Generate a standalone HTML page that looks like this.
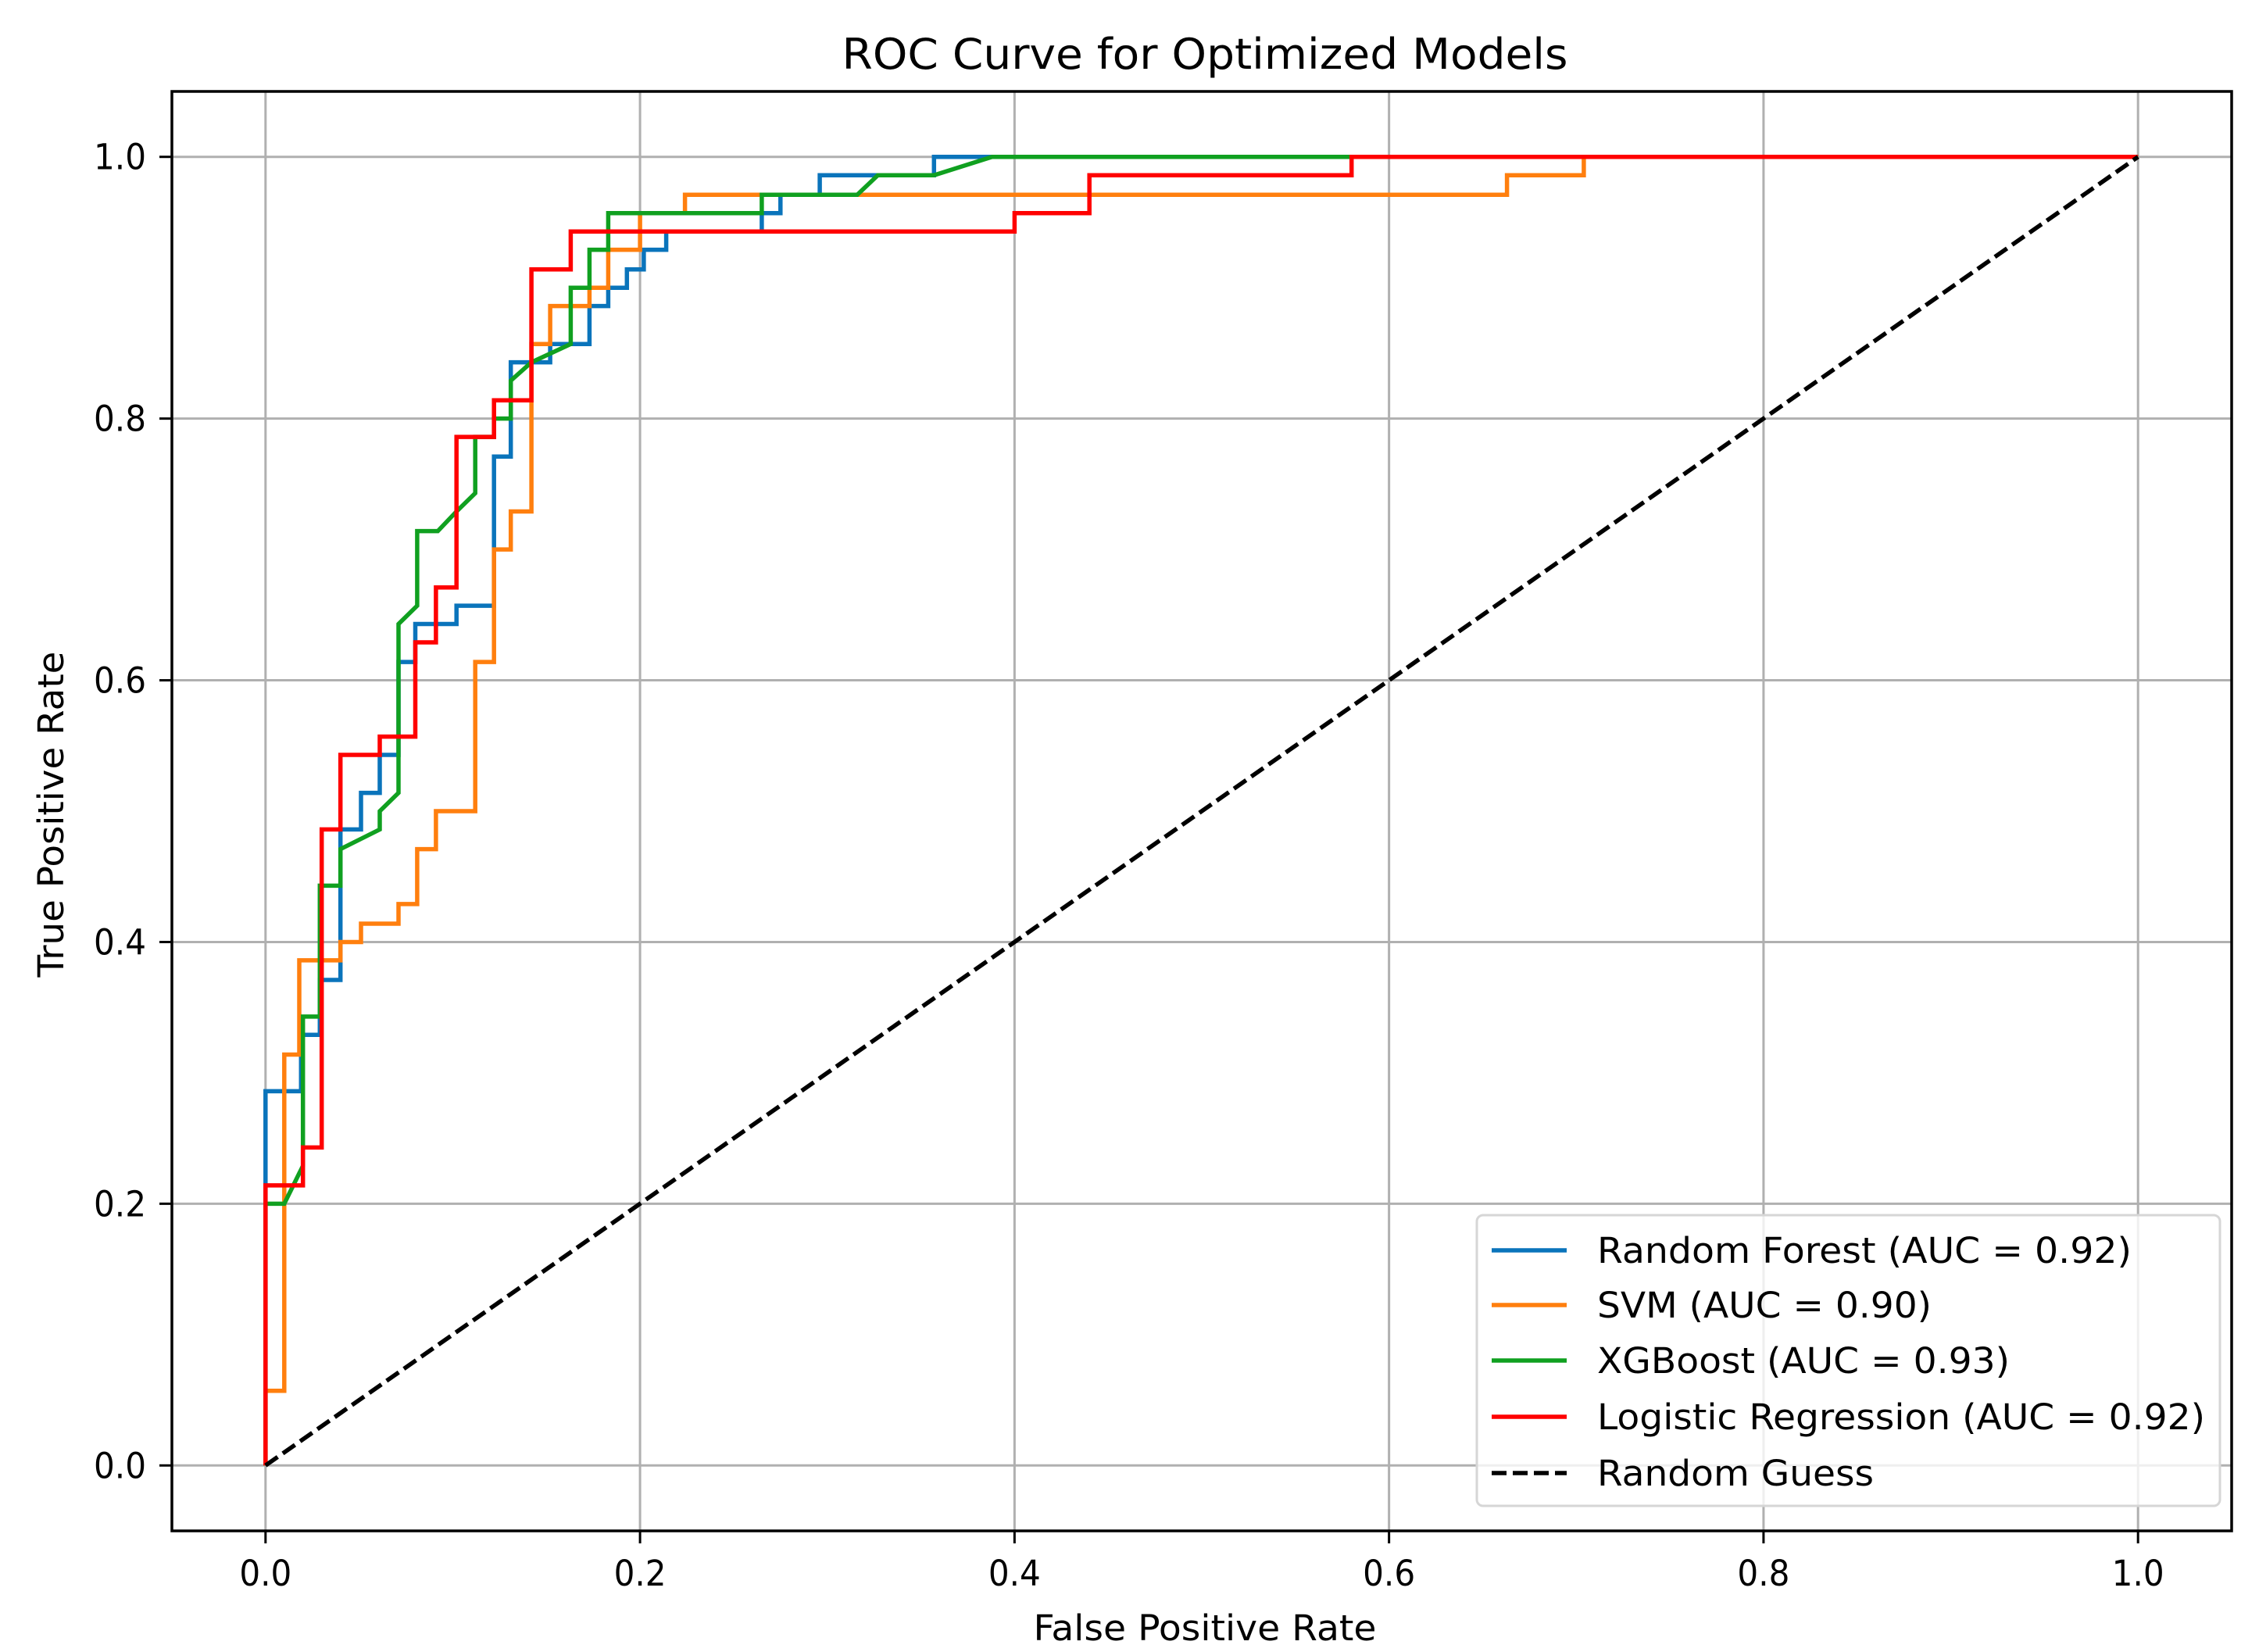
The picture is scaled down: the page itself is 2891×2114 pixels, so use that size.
<!DOCTYPE html>
<html><head><meta charset="utf-8"><style>
html,body{margin:0;padding:0;background:#fff;}
svg{display:block;}
text{font-family:"DejaVu Sans","Liberation Sans",sans-serif;fill:#000;}
</style></head>
<body>
<svg id="chart" width="2891" height="2114" viewBox="0 0 2891 2114" xmlns="http://www.w3.org/2000/svg">
<rect x="0" y="0" width="2891" height="2114" fill="#fff"/>
<text x="1542" y="88" font-size="54" text-anchor="middle" textLength="929" lengthAdjust="spacingAndGlyphs">ROC Curve for Optimized Models</text>
<text x="1542" y="2099" font-size="45" text-anchor="middle" textLength="439" lengthAdjust="spacingAndGlyphs">False Positive Rate</text>
<text transform="translate(81,1042) rotate(-90)" font-size="45" text-anchor="middle" textLength="417" lengthAdjust="spacingAndGlyphs">True Positive Rate</text>
<g id="grid"></g>
<g id="series"></g>
<rect x="220" y="117" width="2636" height="1842" fill="none" stroke="#000" stroke-width="3.5"/>
<g id="ticks"></g>
<g id="legend"></g>
</svg>
<script>
const xTicks = [0, 0.2, 0.4, 0.6, 0.8, 1.0];
const yTicks = [0, 0.2, 0.4, 0.6, 0.8, 1.0];
const tickLabels = ["0.0", "0.2", "0.4", "0.6", "0.8", "1.0"];
const seriesNames = ["Random Forest (AUC = 0.92)", "SVM (AUC = 0.90)", "XGBoost (AUC = 0.93)", "Logistic Regression (AUC = 0.92)", "Random Guess"];
const rfX = [0,0,0.019,0.019,0.029,0.029,0.04,0.04,0.051,0.051,0.061,0.061,0.071,0.071,0.08,0.08,0.102,0.102,0.122,0.122,0.131,0.131,0.152,0.152,0.173,0.173,0.183,0.183,0.193,0.193,0.202,0.202,0.214,0.214,0.265,0.265,0.275,0.275,0.296,0.296,0.357,0.357,1];
const rfY = [0,0.286,0.286,0.329,0.329,0.371,0.371,0.486,0.486,0.514,0.514,0.543,0.543,0.614,0.614,0.643,0.643,0.657,0.657,0.771,0.771,0.843,0.843,0.857,0.857,0.886,0.886,0.9,0.9,0.914,0.914,0.929,0.929,0.943,0.943,0.957,0.957,0.971,0.971,0.986,0.986,1,1];
const svmX = [0,0,0.01,0.01,0.018,0.018,0.04,0.04,0.051,0.051,0.071,0.071,0.081,0.081,0.091,0.091,0.112,0.112,0.122,0.122,0.131,0.131,0.142,0.142,0.152,0.152,0.173,0.173,0.183,0.183,0.2,0.2,0.224,0.224,0.663,0.663,0.704,0.704,1];
const svmY = [0,0.057,0.057,0.314,0.314,0.386,0.386,0.4,0.4,0.414,0.414,0.429,0.429,0.471,0.471,0.5,0.5,0.614,0.614,0.7,0.7,0.729,0.729,0.857,0.857,0.886,0.886,0.9,0.9,0.929,0.929,0.957,0.957,0.971,0.971,0.986,0.986,1,1];
const xgbX = [0,0,0.01,0.02,0.02,0.029,0.029,0.04,0.04,0.061,0.061,0.071,0.071,0.081,0.081,0.092,0.102,0.112,0.112,0.122,0.122,0.131,0.131,0.142,0.163,0.163,0.173,0.173,0.183,0.183,0.265,0.265,0.316,0.327,0.357,0.388,1];
const xgbY = [0,0.2,0.2,0.229,0.343,0.343,0.443,0.443,0.471,0.486,0.5,0.514,0.643,0.657,0.714,0.714,0.729,0.743,0.786,0.786,0.8,0.8,0.829,0.843,0.857,0.9,0.9,0.929,0.929,0.957,0.957,0.971,0.971,0.986,0.986,1,1];
const lrX = [0,0,0.02,0.02,0.03,0.03,0.04,0.04,0.061,0.061,0.08,0.08,0.091,0.091,0.102,0.102,0.122,0.122,0.142,0.142,0.163,0.163,0.4,0.4,0.44,0.44,0.58,0.58,1];
const lrY = [0,0.214,0.214,0.243,0.243,0.486,0.486,0.543,0.543,0.557,0.557,0.629,0.629,0.671,0.671,0.786,0.786,0.814,0.814,0.914,0.914,0.943,0.943,0.957,0.957,0.986,0.986,1,1];
const guessX = [0, 1];
const guessY = [0, 1];

const NS = "http://www.w3.org/2000/svg";
const L = 220, R = 2856, T = 117, B = 1959;
function sx(v){ return L + (v + 0.05) / 1.1 * (R - L); }
function sy(v){ return B - (v + 0.05) / 1.1 * (B - T); }
function mk(tag, attrs){ const e = document.createElementNS(NS, tag); for (const k in attrs) e.setAttribute(k, attrs[k]); return e; }

const grid = document.getElementById('grid');
const ticks = document.getElementById('ticks');
xTicks.forEach((v, i) => {
  const g = mk('line', {x1: sx(v), x2: sx(v), y1: T, y2: B, stroke: '#b0b0b0', 'stroke-width': 3});
  
  
  grid.appendChild(g);
  const t = mk('line', {x1: sx(v), x2: sx(v), y1: B, y2: B + 16, stroke: '#000', 'stroke-width': 3});
  
  
  ticks.appendChild(t);
  const lb = mk('text', {x: sx(v), y: 2029, 'font-size': 45, 'text-anchor': 'middle', textLength: 67, lengthAdjust: 'spacingAndGlyphs'});
  lb.textContent = tickLabels[i];
  
  
  ticks.appendChild(lb);
});
yTicks.forEach((v, i) => {
  const g = mk('line', {x1: L, x2: R, y1: sy(v), y2: sy(v), stroke: '#b0b0b0', 'stroke-width': 3});
  
  
  grid.appendChild(g);
  const t = mk('line', {x1: L - 16, x2: L, y1: sy(v), y2: sy(v), stroke: '#000', 'stroke-width': 3});
  
  
  ticks.appendChild(t);
  const lb = mk('text', {x: 187, y: sy(v) + 16, 'font-size': 45, 'text-anchor': 'end', textLength: 67, lengthAdjust: 'spacingAndGlyphs'});
  lb.textContent = tickLabels[i];
  
  
  ticks.appendChild(lb);
});

const series = document.getElementById('series');
const colors = ['#0a74bb', '#ff7f0e', '#10a020', '#ff0000', '#000000'];
const allX = [rfX, svmX, xgbX, lrX, guessX];
const allY = [rfY, svmY, xgbY, lrY, guessY];
const seriesIds = ['random-forest-curve', 'svm-curve', 'xgboost-curve', 'logistic-regression-curve', 'random-guess-line'];
allX.forEach((xs, s) => {
  const ys = allY[s];
  const pts = xs.map((x, i) => sx(x).toFixed(1) + ',' + sy(ys[i]).toFixed(1)).join(' ');
  const p = mk('polyline', {points: pts, fill: 'none', stroke: colors[s], 'stroke-width': 5.5, 'stroke-linejoin': 'miter'});
  if (s === 4) p.setAttribute('stroke-dasharray', '19 8');
  
  
  series.appendChild(p);
});

const legend = document.getElementById('legend');
const box = mk('rect', {x: 1890, y: 1555, width: 951, height: 372, rx: 8, fill: '#fff', 'fill-opacity': 0.8, stroke: '#d6d6d6', 'stroke-width': 3});


legend.appendChild(box);
const rowY = [1600, 1670, 1741, 1813, 1885];
const textW = [684, 428, 528, 778, 354];
seriesNames.forEach((n, i) => {
  const ln = mk('line', {x1: 1909, x2: 2005, y1: rowY[i], y2: rowY[i], stroke: colors[i], 'stroke-width': 5.5});
  if (i === 4) ln.setAttribute('stroke-dasharray', '19 8');
  
  
  legend.appendChild(ln);
  const tx = mk('text', {x: 2044, y: rowY[i] + 16, 'font-size': 45, textLength: textW[i], lengthAdjust: 'spacingAndGlyphs'});
  tx.textContent = n;
  
  
  legend.appendChild(tx);
});
</script>
</body></html>
